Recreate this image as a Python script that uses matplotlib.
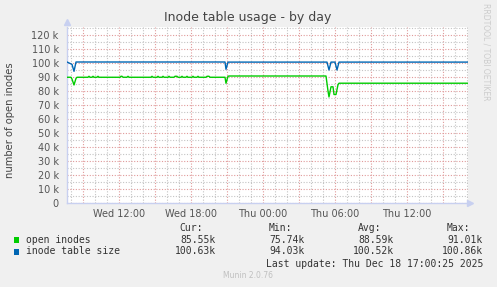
import matplotlib
matplotlib.use('Agg')
import matplotlib.pyplot as plt
import matplotlib.dates as mdates
import pandas as pd
from matplotlib.patches import Rectangle
from matplotlib.ticker import MultipleLocator, FuncFormatter

# open inodes (k)
open_times = ['2025-12-17 07:40', '2025-12-17 08:00', '2025-12-17 08:05', '2025-12-17 08:15',
              '2025-12-17 08:25', '2025-12-17 08:30',
              '2025-12-17 09:25', '2025-12-17 09:30', '2025-12-17 09:35',
              '2025-12-17 09:45', '2025-12-17 09:50', '2025-12-17 09:55',
              '2025-12-17 10:10', '2025-12-17 10:15', '2025-12-17 10:20',
              '2025-12-17 12:05', '2025-12-17 12:10', '2025-12-17 12:15', '2025-12-17 12:20',
              '2025-12-17 12:40', '2025-12-17 12:45', '2025-12-17 12:50',
              '2025-12-17 14:40', '2025-12-17 14:45', '2025-12-17 14:50',
              '2025-12-17 15:10', '2025-12-17 15:15', '2025-12-17 15:20',
              '2025-12-17 15:35', '2025-12-17 15:40', '2025-12-17 15:45',
              '2025-12-17 16:05', '2025-12-17 16:10', '2025-12-17 16:15',
              '2025-12-17 16:35', '2025-12-17 16:40', '2025-12-17 16:50', '2025-12-17 16:55',
              '2025-12-17 17:10', '2025-12-17 17:15', '2025-12-17 17:20',
              '2025-12-17 17:35', '2025-12-17 17:40', '2025-12-17 17:45',
              '2025-12-17 18:05', '2025-12-17 18:10', '2025-12-17 18:15',
              '2025-12-17 18:30', '2025-12-17 18:35', '2025-12-17 18:40',
              '2025-12-17 19:15', '2025-12-17 19:20', '2025-12-17 19:30', '2025-12-17 19:35',
              '2025-12-17 20:50', '2025-12-17 20:55', '2025-12-17 21:05', '2025-12-17 21:10',
              '2025-12-18 05:15', '2025-12-18 05:25', '2025-12-18 05:30', '2025-12-18 05:40',
              '2025-12-18 05:50', '2025-12-18 05:55', '2025-12-18 06:05', '2025-12-18 06:15',
              '2025-12-18 06:20', '2025-12-18 17:05']
open_vals = [89.8, 89.8, 88.5, 84.3,
             89.0, 89.8,
             89.8, 90.5, 89.8,
             89.8, 90.5, 89.8,
             89.8, 90.5, 89.8,
             89.8, 90.5, 90.5, 89.8,
             89.8, 90.5, 89.8,
             89.8, 90.5, 89.8,
             89.8, 90.5, 89.8,
             89.8, 90.5, 89.8,
             89.8, 90.5, 89.8,
             89.8, 90.5, 90.5, 89.8,
             89.8, 90.5, 89.8,
             89.8, 90.5, 89.8,
             89.8, 90.5, 89.8,
             89.8, 90.5, 89.8,
             89.8, 90.5, 90.5, 89.8,
             89.8, 85.5, 90.5, 90.7,
             90.7, 80.0, 75.74, 83.0,
             83.0, 77.5, 77.5, 84.5,
             85.55, 85.55]

# inode table size (k)
size_times = ['2025-12-17 07:40', '2025-12-17 08:05', '2025-12-17 08:15', '2025-12-17 08:25',
              '2025-12-17 20:50', '2025-12-17 20:55', '2025-12-17 21:05',
              '2025-12-18 05:20', '2025-12-18 05:30', '2025-12-18 05:40',
              '2025-12-18 06:00', '2025-12-18 06:10', '2025-12-18 06:20',
              '2025-12-18 17:05']
size_vals = [100.7, 99.0, 94.03, 100.7,
             100.7, 95.5, 100.63,
             100.63, 95.0, 100.63,
             100.63, 95.0, 100.63,
             100.63]

series_names = ['open inodes', 'inode table size']
series_colors = ['#00cc00', '#0066b3']
cur_vals = ['85.55k', '100.63k']
min_vals = ['75.74k', '94.03k']
avg_vals = ['88.59k', '100.52k']
max_vals = ['91.01k', '100.86k']

W, H = 497, 287
fig = plt.figure(figsize=(W / 100, H / 100), dpi=100, facecolor='#f0f0f0')


def fx(x):
    return x / W


def fy(y):
    return 1 - y / H


ax = fig.add_axes([fx(67), fy(203), 401 / W, 176 / H], facecolor='white')

ax.plot(pd.to_datetime(open_times), open_vals, color=series_colors[0], lw=1.0, zorder=3)
ax.plot(pd.to_datetime(size_times), size_vals, color=series_colors[1], lw=1.0, zorder=3)

ax.set_xlim(pd.Timestamp('2025-12-17 07:40'), pd.Timestamp('2025-12-18 17:05'))
ax.set_ylim(0, 125.7)

ax.xaxis.set_major_locator(mdates.HourLocator(byhour=range(0, 24, 3)))
ax.xaxis.set_minor_locator(mdates.HourLocator())


def xfmt(v, pos):
    d = mdates.num2date(v)
    if d.hour % 6 != 0:
        return ''
    return d.strftime('%a %H:%M')


ax.xaxis.set_major_formatter(FuncFormatter(xfmt))
ax.yaxis.set_major_locator(MultipleLocator(10))
ax.yaxis.set_minor_locator(MultipleLocator(5))
ax.yaxis.set_major_formatter(FuncFormatter(lambda v, p: '0' if v == 0 else f'{v:g} k'))

ax.grid(which='minor', color='#c4c4c4', lw=0.8, linestyle=(0, (1, 1.5)), zorder=1)
ax.grid(which='major', color='#e09a9a', lw=0.8, linestyle=(0, (1, 1.5)), zorder=2)
ax.tick_params(which='both', length=0, labelsize=7, labelcolor='#555555')
ax.tick_params(axis='y', pad=6)
ax.tick_params(axis='x', pad=4)

for s in ['top', 'right']:
    ax.spines[s].set_visible(False)
for s in ['left', 'bottom']:
    ax.spines[s].set_color('#c8d0f0')
    ax.spines[s].set_linewidth(1)
ax.plot([0], [1.03], marker='^', color='#c8d0f0', ms=5, transform=ax.transAxes, clip_on=False)
ax.plot([1.005], [0], marker='>', color='#c8d0f0', ms=5, transform=ax.transAxes, clip_on=False)

fig.text(fx(248), fy(18), 'Inode table usage - by day', ha='center', va='center',
         fontsize=9, color='#444444')
fig.text(fx(10), fy(120), 'number of open inodes', rotation=90, ha='center', va='center',
         fontsize=7.2, color='#444444')
fig.text(fx(486), fy(52), 'RRDTOOL / TOBI OETIKER', rotation=270, ha='center', va='center',
         fontsize=5.5, color='#cccccc')

mono = {'family': 'DejaVu Sans Mono', 'fontsize': 7, 'color': '#333333'}
cols = [216, 305, 394, 483]
heads = ['Cur:', 'Min:', 'Avg:', 'Max:']
head_right = [203, 292, 381, 470]
for hx, h in zip(head_right, heads):
    fig.text(fx(hx), fy(228), h, ha='right', va='center', **mono)

for i, name in enumerate(series_names):
    y = 240 + i * 11.5
    fig.patches.append(Rectangle((fx(14), fy(y + 3)), 5 / W, 6 / H, transform=fig.transFigure,
                                 facecolor=series_colors[i], edgecolor='none'))
    fig.text(fx(26), fy(y), name, ha='left', va='center', **mono)
    for cx, v in zip(cols, [cur_vals[i], min_vals[i], avg_vals[i], max_vals[i]]):
        fig.text(fx(cx), fy(y), v, ha='right', va='center', **mono)

fig.text(fx(483), fy(264), 'Last update: Thu Dec 18 17:00:25 2025', ha='right', va='center', **mono)
fig.text(fx(248), fy(276), 'Munin 2.0.76', ha='center', va='center', fontsize=5.5, color='#c0c0c0')

fig.savefig('out.png', dpi=100, facecolor=fig.get_facecolor())
